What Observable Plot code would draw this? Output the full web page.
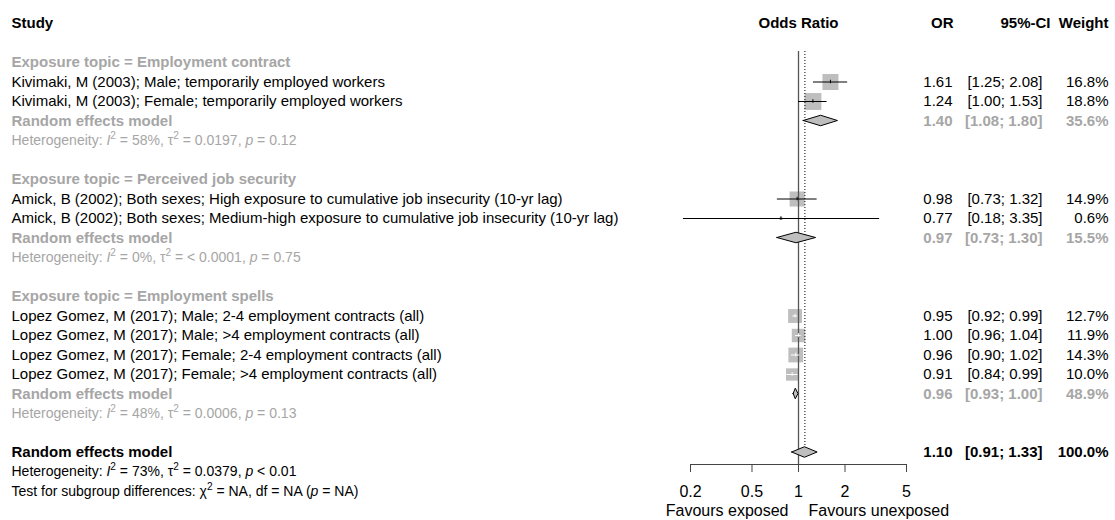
<!DOCTYPE html>
<html><head><meta charset="utf-8">
<script src="https://cdn.jsdelivr.net/npm/d3@7"></script>
<script src="https://cdn.jsdelivr.net/npm/@observablehq/plot@0.6"></script>
<style>
html,body{margin:0;padding:0;background:#fff;}
#chart svg{display:block;}
</style></head><body><div id="chart"></div>
<script>
// ---------------- data ----------------
const columnHeaders = ["Study", "Odds Ratio", "OR", "95%-CI", "Weight"];
const groupLabels = [
  "Exposure topic = Employment contract",
  "Exposure topic = Perceived job security",
  "Exposure topic = Employment spells"
];
const studyLabels = [
  "Kivimaki, M (2003); Male; temporarily employed workers",
  "Kivimaki, M (2003); Female; temporarily employed workers",
  "Amick, B (2002); Both sexes; High exposure to cumulative job insecurity (10-yr lag)",
  "Amick, B (2002); Both sexes; Medium-high exposure to cumulative job insecurity (10-yr lag)",
  "Lopez Gomez, M (2017); Male; 2-4 employment contracts (all)",
  "Lopez Gomez, M (2017); Male; >4 employment contracts (all)",
  "Lopez Gomez, M (2017); Female; 2-4 employment contracts (all)",
  "Lopez Gomez, M (2017); Female; >4 employment contracts (all)"
];
const studyGroup  = [0, 0, 1, 1, 2, 2, 2, 2];
const studyOR     = [1.61, 1.24, 0.98, 0.77, 0.95, 1.00, 0.96, 0.91];
const studyLower  = [1.25, 1.00, 0.73, 0.18, 0.92, 0.96, 0.90, 0.84];
const studyUpper  = [2.08, 1.53, 1.32, 3.35, 0.99, 1.04, 1.02, 0.99];
const studyWeight = [16.8, 18.8, 14.9, 0.6, 12.7, 11.9, 14.3, 10.0];

const modelLabel = "Random effects model";
const subOR     = [1.40, 0.97, 0.96];
const subLower  = [1.08, 0.73, 0.93];
const subUpper  = [1.80, 1.30, 1.00];
const subWeight = [35.6, 15.5, 48.9];
const subHet = [
  "Heterogeneity: *I*^2 = 58%, τ^2 = 0.0197, *p* = 0.12",
  "Heterogeneity: *I*^2 = 0%, τ^2 = < 0.0001, *p* = 0.75",
  "Heterogeneity: *I*^2 = 48%, τ^2 = 0.0006, *p* = 0.13"
];
const overallOR = 1.10, overallLower = 0.91, overallUpper = 1.33, overallWeight = 100.0;
const overallHet = "Heterogeneity: *I*^2 = 73%, τ^2 = 0.0379, *p* < 0.01";
const subgroupTest = "Test for subgroup differences: χ^2 = NA, df = NA (*p* = NA)";

const tickValues = [0.2, 0.5, 1, 2, 5];
const favourLabels = ["Favours exposed", "Favours unexposed"];

// ---------------- layout of rows ----------------
const BLACK = "#000", GRAY = "#a6a6a6";
const fmtCI = (lo, hi) => `[${lo.toFixed(2)}; ${hi.toFixed(2)}]`;
const studies = [], models = [], boldLeft = [], normalLeft = [], hetRows = [];
let k = 0;
groupLabels.forEach((g, gi) => {
  boldLeft.push({k, text: g, color: GRAY}); k++;
  studyLabels.forEach((s, i) => {
    if (studyGroup[i] !== gi) return;
    studies.push({k, or: studyOR[i], lo: studyLower[i], hi: studyUpper[i], w: studyWeight[i]});
    normalLeft.push({k, text: s, color: BLACK}); k++;
  });
  models.push({k, or: subOR[gi], lo: subLower[gi], hi: subUpper[gi], w: subWeight[gi], color: GRAY, id: "g" + gi});
  boldLeft.push({k, text: modelLabel, color: GRAY}); k++;
  hetRows.push({k, text: subHet[gi], color: GRAY}); k++;
  k++; // blank
});
models.push({k, or: overallOR, lo: overallLower, hi: overallUpper, w: overallWeight, color: BLACK, id: "all"});
boldLeft.push({k, text: modelLabel, color: BLACK}); k++;
hetRows.push({k, text: overallHet, color: BLACK}); k++;
hetRows.push({k, text: subgroupTest, color: BLACK}); k++;
const lastRow = k - 1;
const headerRow = -2;

// scales
const xOpts = {type: "log", domain: [0.2, 5], range: [690, 906]};
const rOpts = {type: "sqrt", domain: [0, 100], range: [0, 22]};
const xs = Plot.scale({x: xOpts});
const rs = Plot.scale({r: rOpts});
studies.forEach(d => {
  const half = rs.apply(d.w) * Math.sqrt(Math.PI) / 2;
  const cx = xs.apply(d.or);
  d.inside = xs.apply(d.lo) >= cx - half && xs.apply(d.hi) <= cx + half;
  d.lineColor = d.inside ? "white" : "black";
});

const DH = 0.27; // diamond half height (rows)
const diamondPts = models.flatMap(m => [
  {id: m.id, x: m.lo, y1: m.k, y2: m.k},
  {id: m.id, x: m.or, y1: m.k - DH, y2: m.k + DH},
  {id: m.id, x: m.hi, y1: m.k, y2: m.k}
]);

const numRowsNormal = studies.map(d => ({...d, color: BLACK}));

const FS = 15;
const leftDx = 11 - 690;

const plot = Plot.plot({
  width: 1115,
  height: 520,
  marginLeft: 690,
  marginRight: 209,
  marginTop: 51,
  marginBottom: 56,
  style: {fontFamily: "'Liberation Sans', Arial, sans-serif", fontSize: FS + "px", background: "white"},
  x: xOpts,
  y: {type: "linear", domain: [headerRow, lastRow], range: [23, 491], axis: null},
  r: rOpts,
  marks: [
    // squares
    Plot.dot(studies, {x: "or", y: "k", r: "w", symbol: "square", fill: "#bebebe", stroke: "none"}),
    // reference lines
    Plot.ruleX([1], {stroke: "#555", strokeWidth: 1.3}),
    Plot.ruleX([overallOR], {stroke: "#000", strokeWidth: 1, strokeDasharray: "1,2", insetBottom: 15}),
    // confidence intervals
    Plot.ruleY(studies, {y: "k", x1: "lo", x2: "hi", stroke: "lineColor", strokeWidth: 1}),
    Plot.ruleX(studies, {x: "or", y1: d => d.k - 0.09, y2: d => d.k + 0.09, stroke: "lineColor", strokeWidth: 1}),
    // diamonds
    Plot.areaY(diamondPts, {x: "x", y1: "y1", y2: "y2", z: "id", fill: "#bebebe", stroke: "black", strokeWidth: 1}),
    // axis
    Plot.frame({anchor: "bottom", stroke: "#444"}),
    Plot.axisX({ticks: tickValues, tickFormat: d => String(d), tickSize: 8, tickPadding: 13, fontSize: 16, stroke: "#444", fill: "black", label: null}),
    Plot.text([favourLabels[0]], {x: () => 1, frameAnchor: "bottom", dy: 51, dx: -10, textAnchor: "end", fontSize: 16, fill: "black"}),
    Plot.text([favourLabels[1]], {x: () => 1, frameAnchor: "bottom", dy: 51, dx: 10, textAnchor: "start", fontSize: 16, fill: "black"}),
    // headers
    Plot.text([columnHeaders[0]], {y: () => headerRow, frameAnchor: "left", dx: leftDx, textAnchor: "start", fontWeight: "bold", fill: "black"}),
    Plot.text([columnHeaders[1]], {x: () => 1, y: () => headerRow, textAnchor: "middle", fontWeight: "bold", fill: "black"}),
    Plot.text([columnHeaders[2]], {y: () => headerRow, frameAnchor: "right", dx: 47, textAnchor: "end", fontWeight: "bold", fill: "black"}),
    Plot.text([columnHeaders[3]], {y: () => headerRow, frameAnchor: "right", dx: 144, textAnchor: "end", fontWeight: "bold", fill: "black"}),
    Plot.text([columnHeaders[4]], {y: () => headerRow, frameAnchor: "right", dx: 202, textAnchor: "end", fontWeight: "bold", fill: "black"}),
    // left labels
    Plot.text(boldLeft, {y: "k", text: "text", fill: "color", frameAnchor: "left", dx: leftDx, textAnchor: "start", fontWeight: "bold"}),
    Plot.text(normalLeft, {y: "k", text: "text", fill: "color", frameAnchor: "left", dx: leftDx, textAnchor: "start"}),
    Plot.text(hetRows, {y: "k", text: "text", fill: "color", frameAnchor: "left", dx: leftDx, textAnchor: "start", fontSize: 14}),
    // numeric columns: studies
    Plot.text(numRowsNormal, {y: "k", text: d => d.or.toFixed(2), fill: "color", frameAnchor: "right", dx: 46, textAnchor: "end"}),
    Plot.text(numRowsNormal, {y: "k", text: d => fmtCI(d.lo, d.hi), fill: "color", frameAnchor: "right", dx: 136, textAnchor: "end"}),
    Plot.text(numRowsNormal, {y: "k", text: d => d.w.toFixed(1) + "%", fill: "color", frameAnchor: "right", dx: 202, textAnchor: "end"}),
    // numeric columns: models
    Plot.text(models, {y: "k", text: d => d.or.toFixed(2), fill: "color", frameAnchor: "right", dx: 46, textAnchor: "end", fontWeight: "bold"}),
    Plot.text(models, {y: "k", text: d => fmtCI(d.lo, d.hi), fill: "color", frameAnchor: "right", dx: 136, textAnchor: "end", fontWeight: "bold"}),
    Plot.text(models, {y: "k", text: d => d.w.toFixed(1) + "%", fill: "color", frameAnchor: "right", dx: 202, textAnchor: "end", fontWeight: "bold"})
  ]
});

// rich text: *italic* and ^superscript
const NS = "http://www.w3.org/2000/svg";
plot.querySelectorAll("text").forEach(t => {
  const s = t.textContent;
  if (!/[\*\^]/.test(s)) return;
  while (t.firstChild) t.removeChild(t.firstChild);
  const parts = s.split(/(\*[^*]+\*|\^\d)/).filter(p => p !== "");
  let pendingDown = false;
  parts.forEach(p => {
    const ts = document.createElementNS(NS, "tspan");
    if (p.startsWith("^")) {
      ts.textContent = p.slice(1);
      ts.setAttribute("style", "font-size:0.72em");
      ts.setAttribute("dy", "-0.6em");
      pendingDown = true;
    } else {
      if (p.startsWith("*")) { ts.textContent = p.slice(1, -1); ts.setAttribute("font-style", "italic"); }
      else ts.textContent = p;
      if (pendingDown) { ts.setAttribute("dy", "0.432em"); pendingDown = false; }
    }
    t.appendChild(ts);
  });
});

document.getElementById("chart").appendChild(plot);
</script>
</body></html>
